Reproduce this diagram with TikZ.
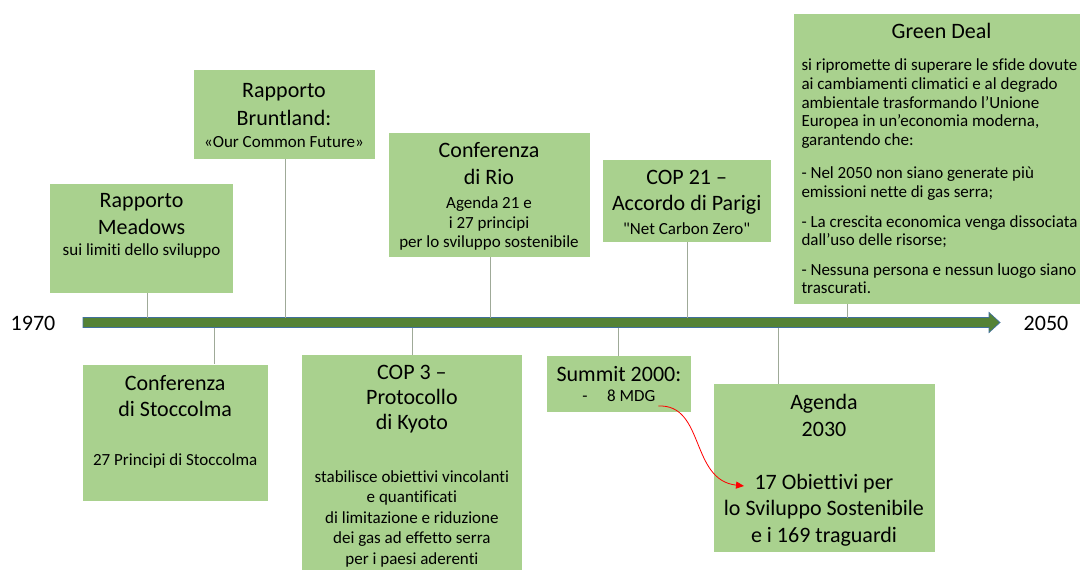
\documentclass[tikz,border=0pt]{standalone}
\usepackage{fontspec}
\setmainfont{Carlito}[Ligatures={TeX,NoCommon}]
\usetikzlibrary{arrows.meta}

\definecolor{boxgreen}{HTML}{A9D18E}
\definecolor{axisgreen}{HTML}{548235}
\definecolor{axisblue}{HTML}{41719C}
\definecolor{stemgray}{HTML}{9FAA98}

\newcommand{\evtitle}{\fontsize{22}{26.5}\selectfont}
\newcommand{\evsmall}[1][20]{\fontsize{17}{#1}\selectfont}

\begin{document}
\begin{tikzpicture}[x=1pt, y=-1pt,
  event/.style={fill=boxgreen, anchor=north west, align=flush center, inner xsep=4pt, inner ysep=0pt, font=\evtitle},
  stem/.style={stemgray, line width=0.8pt},
  yearlabel/.style={font=\evtitle}]
  \path[fill=white] (0,0) rectangle (1080,570);
  \useasboundingbox (0,0) rectangle (1080,570);

  % time axis
  \draw[axisblue, fill=axisgreen, line width=0.7pt] (83,317.5) -- (989,317.5) -- (989,312.5) -- (1000,322.5)
    -- (989,332.5) -- (989,327.5) -- (83,327.5) -- cycle;
  \node[yearlabel] (y1970) at (33,323) {1970};
  \node[yearlabel] (y2050) at (1046,323) {2050};

  % events above the axis
  \node[event, text width=174.7pt, text height=24pt, text depth=85.4pt] (meadows) at (50,183.3)
    {Rapporto\\Meadows\par\evsmall[21]sui limiti dello sviluppo\par};
  \node[event, text width=173pt, text height=27.3pt, text depth=61pt] (bruntland) at (193.3,70)
    {Rapporto\\[1.2pt]Bruntland:\par\evsmall[22.3]«Our Common Future»\par};
  \node[event, text width=193pt, text height=25pt, text depth=99.4pt] (rio) at (388.3,132.3)
    {Conferenza\\di Rio\par\vspace{5pt}\evsmall[19.6]Agenda 21 e\\i 27 principi\\per lo sviluppo sostenibile\par};
  \node[event, text width=160.4pt, text height=25pt, text depth=57.4pt] (parigi) at (602.3,159.3)
    {COP 21 –\\[-0.8pt]Accordo di Parigi\par\evsmall[24]\textquotedbl Net Carbon Zero\textquotedbl\par};
  \node[event, inner xsep=8pt, text width=280pt, text height=24.3pt, text depth=265pt] (greendeal) at (793.3,14)
    {Green Deal\par\vspace{13.8pt}\evsmall[18.6]\raggedright
     si ripromette di superare le sfide dovute\\
     ai cambiamenti climatici e al degrado\\
     ambientale trasformando l’Unione\\
     Europea in un’economia moderna,\\
     garantendo che:\\[14.7pt]
     - Nel 2050 non siano generate più\\
     emissioni nette di gas serra;\\[11.4pt]
     - La crescita economica venga dissociata\\
     dall’uso delle risorse;\\[10.7pt]
     - Nessuna persona e nessun luogo siano\\
     trascurati.\par};

  % events below the axis
  \node[event, text width=177.4pt, text height=25.7pt, text depth=110.7pt] (stoccolma) at (82.3,364.3)
    {Conferenza\\di Stoccolma\par\vspace{28pt}\evsmall[21]27 Principi di Stoccolma\par};
  \node[event, text width=212pt, text height=24.3pt, text depth=190.7pt] (kyoto) at (301.7,355)
    {COP 3 –\\[-1.5pt]Protocollo\\[-1.5pt]di Kyoto\par\vspace{32pt}\evsmall[20.6]stabilisce obiettivi vincolanti\\e quantificati\\di limitazione e riduzione\\dei gas ad effetto serra\\per i paesi aderenti\par};
  \node[event, text width=136pt, text height=25pt, text depth=30.7pt] (summit) at (546.7,356)
    {Summit 2000:\par\evsmall[20.7]-\hspace{19.5pt}8 MDG\par};
  \node[event, text width=213pt, text height=25.3pt, text depth=142.4pt] (agenda) at (713.3,384)
    {Agenda\\2030\\[26.5pt]17 Obiettivi per\\lo Sviluppo Sostenibile\\e i 169 traguardi\par};

  % stems
  \coordinate (meadowsT) at (147,317.5);
  \coordinate (bruntlandT) at (285.5,317.5);
  \coordinate (rioT) at (490,317.5);
  \coordinate (parigiT) at (687.6,317.5);
  \coordinate (greendealT) at (847.6,317.5);
  \coordinate (stoccolmaT) at (214.5,327.5);
  \coordinate (kyotoT) at (412,327.5);
  \coordinate (summitT) at (618.6,327.5);
  \coordinate (agendaT) at (778,327.5);

  \draw[stem] (meadowsT) -- (meadowsT |- meadows.south);
  \draw[stem] (bruntlandT) -- (bruntlandT |- bruntland.south);
  \draw[stem] (rioT) -- (rioT |- rio.south);
  \draw[stem] (parigiT) -- (parigiT |- parigi.south);
  \draw[stem] (greendealT) -- (greendealT |- greendeal.south);
  \draw[stem] (stoccolmaT) -- (stoccolmaT |- stoccolma.north);
  \draw[stem] (kyotoT) -- (kyotoT |- kyoto.north);
  \draw[stem] (summitT) -- (summitT |- summit.north);
  \draw[stem] (agendaT) -- (agendaT |- agenda.north);

  % MDG -> SDG
  \coordinate (mdg) at (658.3,406);
  \coordinate (sdg) at (744,486);
  \draw[red, line width=0.8pt, -{Triangle[length=8pt,width=7pt]}] (mdg) .. controls (705,404) and (690,480) .. (sdg);
\end{tikzpicture}
\end{document}
